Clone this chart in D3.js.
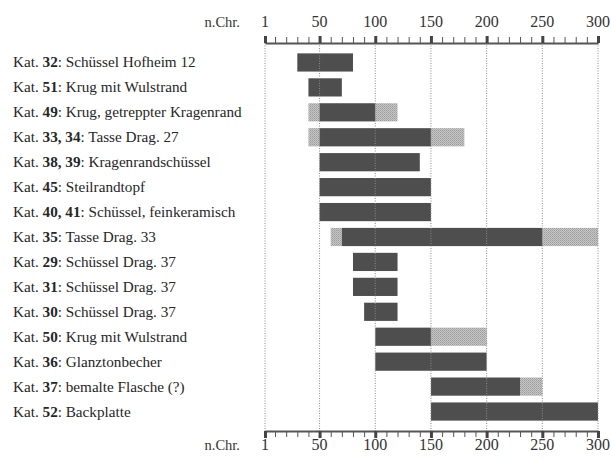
<!DOCTYPE html>
<html>
<head>
<meta charset="utf-8">
<script src="https://cdn.jsdelivr.net/npm/d3@7/dist/d3.min.js"></script>
<style>
  body { margin: 0; background: #fff; }
  svg { display: block; }
  svg text { font-family: "Liberation Serif", "DejaVu Serif", serif; }
</style>
</head>
<body>
<div id="chart"></div>
<script>
'use strict';

// catalogue numbers (bold) and names
const katNums = ['32', '51', '49', '33, 34', '38, 39', '45', '40, 41', '35',
    '29', '31', '30', '50', '36', '37', '52'];
const katNames = ['Schüssel Hofheim 12', 'Krug mit Wulstrand', 'Krug, getreppter Kragenrand',
    'Tasse Drag. 27', 'Kragenrandschüssel', 'Steilrandtopf', 'Schüssel, feinkeramisch',
    'Tasse Drag. 33', 'Schüssel Drag. 37', 'Schüssel Drag. 37', 'Schüssel Drag. 37',
    'Krug mit Wulstrand', 'Glanztonbecher', 'bemalte Flasche (?)', 'Backplatte'];

// dating ranges (years AD): light = possible, dark = main dating
const earlyFrom = [30, 40, 40, 40, 50, 50, 50, 60, 80, 80, 90, 100, 100, 150, 150];
const darkFrom  = [30, 40, 50, 50, 50, 50, 50, 70, 80, 80, 90, 100, 100, 150, 150];
const darkTo    = [80, 70, 100, 150, 140, 150, 150, 250, 120, 120, 120, 150, 200, 230, 300];
const lateTo    = [80, 70, 120, 180, 140, 150, 150, 300, 120, 120, 120, 200, 200, 250, 300];

const majorTicks = [1, 50, 100, 150, 200, 250, 300];
const minorTicks = [10, 20, 30, 40, 60, 70, 80, 90, 110, 120, 130, 140, 160, 170, 180, 190,
    210, 220, 230, 240, 260, 270, 280, 290];
const axisTitle = 'n.Chr.';

const width = 611, height = 459;
const topAxisY = 43, bottomAxisY = 431;

const svg = d3.select('#chart').append('svg')
    .attr('width', width)
    .attr('height', height);

const defs = svg.append('defs');
const pat = defs.append('pattern')
    .attr('id', 'dither')
    .attr('width', 2).attr('height', 2)
    .attr('patternUnits', 'userSpaceOnUse');
pat.append('rect').attr('width', 2).attr('height', 2).attr('fill', '#c6c6c6');
pat.append('rect').attr('width', 1).attr('height', 1).attr('fill', '#9c9c9c');
pat.append('rect').attr('x', 1).attr('y', 1).attr('width', 1).attr('height', 1).attr('fill', '#ababab');

const x = d3.scaleLinear().domain([1, 300]).range([265, 598]);
const y = d3.scaleBand()
    .domain(d3.range(katNums.length))
    .range([50, 424])
    .paddingInner(0.27)
    .paddingOuter(0.135);

const rows = d3.range(katNums.length).map(i => ({
    i, num: katNums[i], name: katNames[i],
    e: earlyFrom[i], a: darkFrom[i], b: darkTo[i], l: lateTo[i]
}));

// bars
const bars = svg.append('g');
bars.selectAll('rect.early').data(rows.filter(d => d.e < d.a)).join('rect')
    .attr('x', d => x(d.e)).attr('width', d => x(d.a) - x(d.e))
    .attr('y', d => y(d.i)).attr('height', y.bandwidth())
    .attr('fill', 'url(#dither)');
bars.selectAll('rect.late').data(rows.filter(d => d.l > d.b)).join('rect')
    .attr('x', d => x(d.b)).attr('width', d => x(d.l) - x(d.b))
    .attr('y', d => y(d.i)).attr('height', y.bandwidth())
    .attr('fill', 'url(#dither)');
bars.selectAll('rect.main').data(rows).join('rect')
    .attr('x', d => x(d.a)).attr('width', d => x(d.b) - x(d.a))
    .attr('y', d => y(d.i)).attr('height', y.bandwidth())
    .attr('fill', '#4e4e4e');

// dotted grid lines, drawn over the bars like in the print
svg.append('g').selectAll('line').data(majorTicks).join('line')
    .attr('x1', d => x(d)).attr('x2', d => x(d))
    .attr('y1', topAxisY).attr('y2', bottomAxisY)
    .attr('stroke', '#8a8a8a')
    .attr('stroke-width', 1)
    .attr('stroke-dasharray', '1,1.5');

// axes
function drawAxis(axisFn, yPos, labelY) {
    const g = svg.append('g').attr('transform', `translate(0,${yPos})`);
    g.append('g').call(axisFn(x).tickValues(minorTicks).tickSize(6).tickFormat(''))
        .call(s => s.select('.domain').remove())
        .call(s => s.selectAll('line').attr('stroke', '#555').attr('stroke-width', 1));
    g.append('g').call(axisFn(x).tickValues(majorTicks).tickSize(7).tickSizeOuter(0).tickFormat(''))
        .call(s => s.select('.domain').attr('stroke', '#555').attr('stroke-width', 2))
        .call(s => s.selectAll('line').attr('stroke', '#444').attr('stroke-width', 3));
    svg.append('g').selectAll('text').data(majorTicks).join('text')
        .attr('x', d => x(d)).attr('y', labelY)
        .attr('text-anchor', 'middle')
        .attr('font-size', 16).attr('fill', '#333')
        .text(d => d);
    svg.append('text')
        .attr('x', 240).attr('y', labelY)
        .attr('text-anchor', 'end')
        .attr('font-size', 14.5).attr('fill', '#333')
        .text(axisTitle);
}
drawAxis(d3.axisTop, topAxisY, 27);
drawAxis(d3.axisBottom, bottomAxisY, 450);

// row labels
const lab = svg.append('g').selectAll('text').data(rows).join('text')
    .attr('x', 13)
    .attr('y', d => y(d.i) + y.bandwidth() / 2 + 5)
    .attr('font-size', 15.2)
    .attr('fill', '#262626');
lab.append('tspan').text('Kat. ');
lab.append('tspan').attr('font-weight', 'bold').text(d => d.num);
lab.append('tspan').text(d => ': ' + d.name);
</script>
</body>
</html>
